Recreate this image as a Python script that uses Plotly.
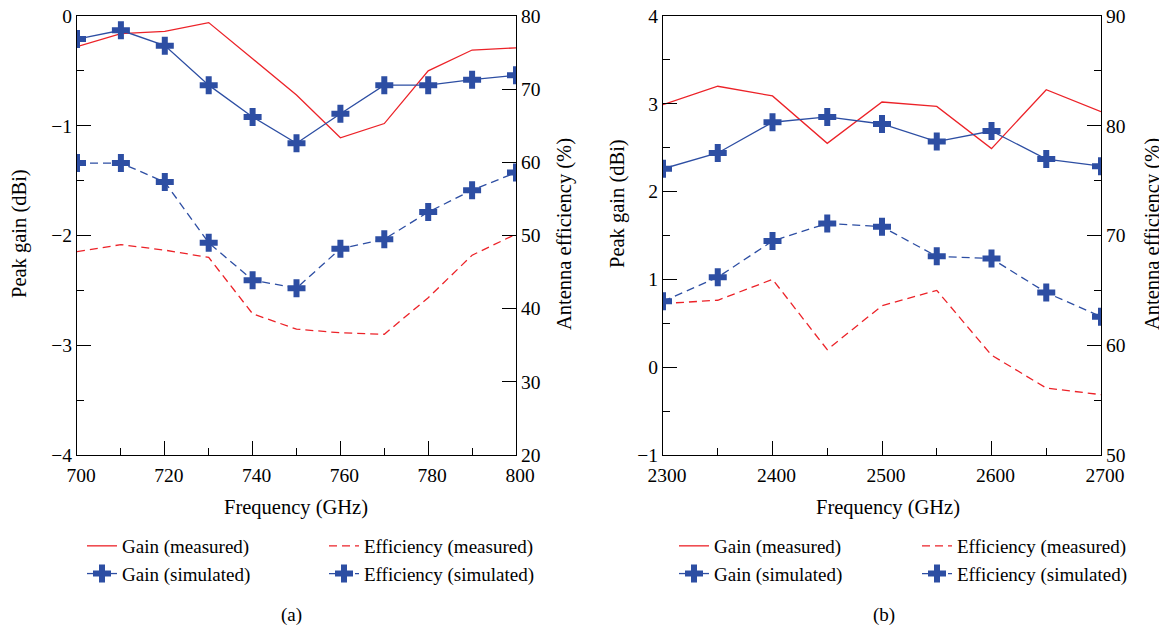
import plotly.graph_objects as go
from plotly.subplots import make_subplots

# ---- Data: panel (a) ----
freq_a = [700, 710, 720, 730, 740, 750, 760, 770, 780, 790, 800]
gain_meas_a = [-0.28, -0.16, -0.14, -0.06, -0.39, -0.72, -1.11, -0.98, -0.50, -0.31, -0.29]
gain_sim_a = [-0.21, -0.13, -0.27, -0.63, -0.92, -1.16, -0.89, -0.63, -0.63, -0.58, -0.54]
eff_meas_a = [47.8, 48.75, 48.0, 47.0, 39.3, 37.2, 36.7, 36.5, 41.5, 47.3, 50.2]
eff_sim_a = [59.9, 59.9, 57.3, 49.0, 43.9, 42.8, 48.2, 49.5, 53.2, 56.2, 58.6]

# ---- Data: panel (b) ----
freq_b = [2300, 2350, 2400, 2450, 2500, 2550, 2600, 2650, 2700]
gain_meas_b = [2.99, 3.20, 3.09, 2.55, 3.02, 2.97, 2.49, 3.16, 2.91]
gain_sim_b = [2.26, 2.44, 2.79, 2.85, 2.77, 2.57, 2.69, 2.37, 2.29]
eff_meas_b = [63.8, 64.1, 66.0, 59.6, 63.6, 65.0, 59.1, 56.1, 55.5]
eff_sim_b = [64.0, 66.2, 69.5, 71.1, 70.8, 68.1, 67.9, 64.8, 62.6]

x_title = "Frequency (GHz)"
y_left_title = "Peak gain (dBi)"
y_right_title = "Antenna efficiency (%)"

RED = "#ec2228"
BLUE = "#2d4ea3"
FONT = "Liberation Serif"
# page body has an 8px margin; size the figure to fit inside the window
OFF = 8
W, H = 1167 - OFF, 631 - OFF

fig = make_subplots(rows=1, cols=2, specs=[[{"secondary_y": True}, {"secondary_y": True}]])

def add_panel(col, x, gm, gs, em, es, lg1, lg2):
    fig.add_trace(go.Scatter(x=x, y=gm, mode="lines", name="Gain (measured)",
                             line=dict(color=RED, width=1.3), legend=lg1),
                  row=1, col=col, secondary_y=False)
    fig.add_trace(go.Scatter(x=x, y=gs, mode="lines+markers", name="Gain (simulated)",
                             line=dict(color=BLUE, width=1.3),
                             marker=dict(symbol="cross", size=15, color=BLUE), legend=lg1),
                  row=1, col=col, secondary_y=False)
    fig.add_trace(go.Scatter(x=x, y=em, mode="lines", name="Efficiency (measured)",
                             line=dict(color=RED, width=1.3, dash="8px,5px"), legend=lg2),
                  row=1, col=col, secondary_y=True)
    fig.add_trace(go.Scatter(x=x, y=es, mode="lines+markers", name="Efficiency (simulated)",
                             line=dict(color=BLUE, width=1.3, dash="8px,5px"),
                             marker=dict(symbol="cross", size=15, color=BLUE), legend=lg2),
                  row=1, col=col, secondary_y=True)

add_panel(1, freq_a, gain_meas_a, gain_sim_a, eff_meas_a, eff_sim_a, "legend", "legend2")
add_panel(2, freq_b, gain_meas_b, gain_sim_b, eff_meas_b, eff_sim_b, "legend3", "legend4")

# helpers: convert target-window pixel positions to paper fractions
def px_x(p):
    return (p - OFF) / W

def px_y(p):
    return 1 - (p - OFF) / H

ydom = [px_y(455), px_y(16)]
tickfont = dict(family=FONT, size=19.5, color="black")

common = dict(showline=True, linecolor="black", linewidth=1.2, ticks="inside",
              ticklen=14, tickwidth=1.2, tickcolor="black", showgrid=False,
              zeroline=False, tickfont=tickfont, automargin=False,
              ticklabeloverflow="allow")
xextra = dict(ticklabelstandoff=2, ticklabelshift=4)
minor_tick = dict(ticks="inside", ticklen=7, tickcolor="black", tickwidth=1.2)

fig.update_layout(
    width=W, height=H, plot_bgcolor="white", paper_bgcolor="white",
    margin=dict(l=0, r=0, t=0, b=0, autoexpand=False),
    font=dict(family=FONT, color="black"),
    xaxis=dict(domain=[px_x(77), px_x(516)], range=[700, 800], dtick=20, tick0=700,
               mirror=True, minor=dict(dtick=10, **minor_tick), **common, **xextra),
    yaxis=dict(domain=ydom, range=[-4, 0], dtick=1,
               minor=dict(dtick=0.5, **minor_tick), **common),
    yaxis2=dict(domain=ydom, range=[20, 80], dtick=10, overlaying="y", side="right",
                anchor="x", **common),
    xaxis2=dict(domain=[px_x(663), px_x(1101)], range=[2300, 2700], dtick=100, tick0=2300,
                mirror=True, minor=dict(dtick=50, **minor_tick), **common, **xextra),
    yaxis3=dict(domain=ydom, range=[-1, 4], dtick=1, anchor="x2",
                minor=dict(dtick=0.5, **minor_tick), **common),
    yaxis4=dict(domain=ydom, range=[50, 90], dtick=10, overlaying="y3", side="right",
                anchor="x2", minor=dict(dtick=5, **minor_tick), **common),
)

legfont = dict(family=FONT, size=19, color="black")
def leg(xp):
    return dict(x=px_x(xp), y=px_y(527), xref="container", yref="container",
                xanchor="left", yanchor="top",
                orientation="v", font=legfont, bgcolor="rgba(0,0,0,0)", borderwidth=0,
                tracegroupgap=0, itemwidth=30)

fig.update_layout(legend=leg(82), legend2=leg(324), legend3=leg(674), legend4=leg(917))

titlefont = dict(family=FONT, size=20.5, color="black")
def ann(text, xp, yp, angle=0, size=None):
    f = dict(titlefont)
    if size:
        f["size"] = size
    fig.add_annotation(text=text, x=px_x(xp), y=px_y(yp), xref="paper", yref="paper",
                       xanchor="center", yanchor="middle", showarrow=False,
                       textangle=angle, font=f)

ann(x_title, 296, 507)
ann(x_title, 888, 507)
ann(y_left_title, 20, 234, -90)
ann(y_right_title, 565, 234, -90)
ann(y_left_title, 617, 204, -90)
ann(y_right_title, 1153, 234, -90)
ann("(a)", 291, 615, size=19)
ann("(b)", 884, 615, size=19)

fig.write_html("out.html")
